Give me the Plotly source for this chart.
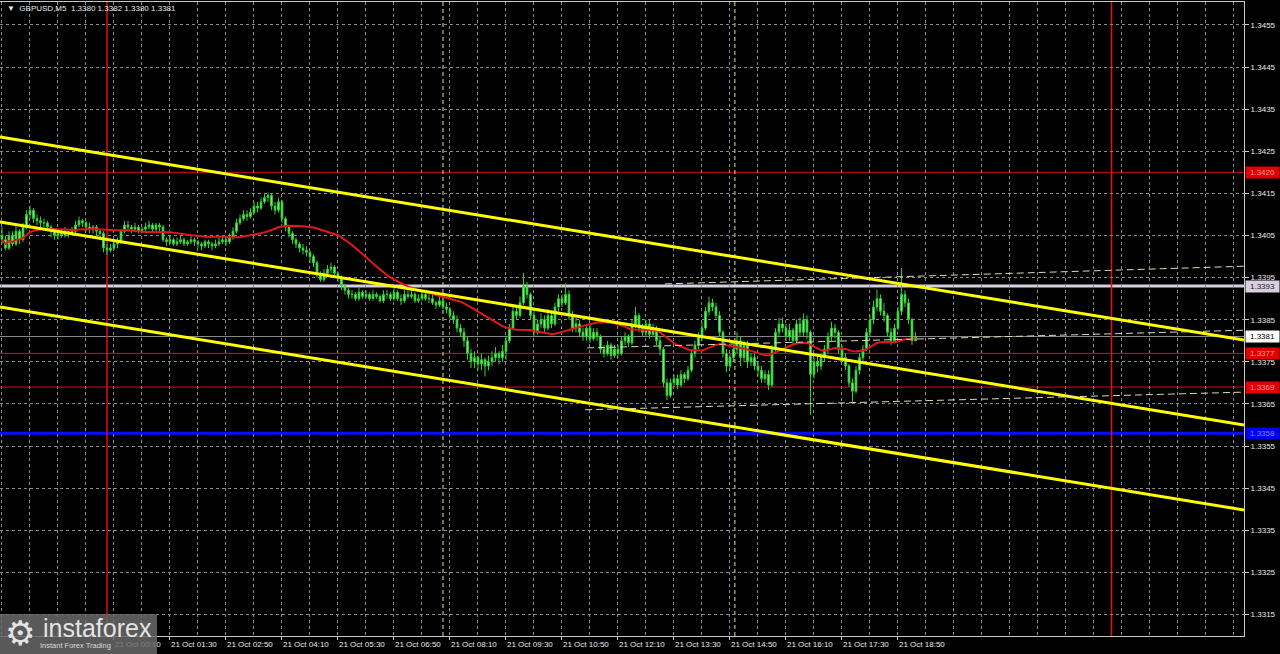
import pandas as pd
import plotly.graph_objects as go

# ---------------- data (GBPUSD M5, prices given as pips above 1.3300) ----------------
REF_PRICE = 1.3300
PIP = 0.0001
first_bar_time = "2025-10-20 21:30"
bar_minutes = 5
first_open_pips = 105

close_pips = [104, 102, 105, 103, 106, 104,
 107, 110, 111,
 109, 108.5, 108, 108,
 107, 106, 105, 105.5, 105,
 106, 105.5, 106,
 107.5, 108.5, 108,
 107, 106.5, 107, 106, 105.5,
 102, 101.5,
 102, 103, 103.5,
 106, 107.5, 107,
 106.5, 107, 106, 106.5,
 107, 107.5, 106.5, 107.5, 107,
 104, 103.5, 104, 103, 103.5, 104, 103, 103.5, 104, 103.5,
 103, 102.5, 103.5, 103, 102.5, 103,
 103.5, 104, 103.5, 104.5,
 106, 108, 109,
 110, 109.5, 110.5,
 112, 111.5, 113,
 114, 114.5,
 112, 111,
 113, 109,
 107, 105.5, 104,
 103, 102, 101.5,
 101, 100, 98.5,
 96, 94.5, 96,
 97, 97.5, 96, 95,
 93, 92, 91,
 91, 90, 91.5, 90.5, 91, 90, 91, 90.5, 89.5, 91,
 91, 90, 91.5, 90, 89.5, 91,
 90.5, 91, 89.5, 90, 91, 90,
 90, 89, 88.5, 89.5, 88, 87.5, 86,
 85, 83, 82,
 80, 77, 75,
 76, 74.5, 75.5, 74, 75, 76,
 77, 76, 77.5,
 80, 83,
 87, 86,
 89, 93, 91,
 86, 82, 84,
 85, 83, 86, 84,
 88, 90, 89,
 91,
 86, 83, 84,
 82, 81, 83, 80.5, 82, 81,
 78, 77, 79, 76.5, 78, 77,
 80, 81, 79.5,
 84, 86, 83,
 82, 84, 81.5, 83,
 80, 78,
 70, 67,
 70, 71, 69.5, 72, 71, 73,
 77, 79,
 81, 83,
 87, 89, 88, 86,
 82,
 77, 74, 76,
 78, 80, 76, 79,
 75, 76, 74,
 73, 71, 72, 69.5,
 78, 82, 84,
 83, 81, 82.5,
 80, 84, 82,
 85, 82,
 72, 75,
 74, 76, 78,
 81, 83, 82,
 78, 76, 74,
 70, 68,
 73, 76, 78,
 82, 85,
 88, 90, 87,
 86,
 82, 80, 83,
 87, 91,
 89, 85,
 80, 81]

high_pips = [107, 105, 106, 106, 107.5, 106.5,
 108, 111, 112,
 111.5, 110, 109.5, 109,
 108.5, 107.5, 106.5, 106.5, 106.5,
 107, 106.5, 107,
 108.5, 109.5, 109,
 108.5, 108, 107.5, 107.5, 106.5,
 106, 103,
 103, 104, 104.5,
 106.5, 108.5, 108.5,
 107.5, 108, 107.5, 107,
 108, 108.5, 108, 108, 108,
 107.5, 104.5, 105, 104.5, 104.5, 105, 104.5, 104, 105, 104.5,
 104, 103.5, 104, 104, 103.5, 104,
 104.5, 105, 104.5, 105.5,
 107, 109, 110,
 111, 111, 111.5,
 113, 113, 114,
 115, 115.2,
 115, 113,
 114, 113.5,
 109.5, 107.5, 106,
 104.5, 103.5, 103,
 102.5, 101.5, 100.5,
 99, 96.5, 97,
 98, 98.5, 98, 96.5,
 95.5, 93.5, 92.5,
 92, 91.5, 92.5, 92, 92, 91.5, 92, 91.5, 91, 92,
 92, 91.5, 92.5, 92, 91, 92,
 92, 92, 91.5, 91, 92, 91.5,
 91, 91, 89.5, 90.5, 90, 89, 88,
 87, 86, 84,
 83, 81, 78,
 77.5, 76.5, 77, 76, 76.5, 77.5,
 78.5, 77.5, 79,
 81, 84,
 88, 88.5,
 90.5, 96.1, 94,
 91.5, 87, 85,
 86.5, 86, 87.5, 87,
 89, 91, 91,
 93.7,
 92, 87, 85.5,
 85, 83, 84, 84, 83, 83,
 81.5, 79, 80, 79.5, 79, 79,
 81, 82, 81.5,
 85, 88, 86.5,
 84, 85, 85, 84,
 83.5, 81,
 78.5, 71,
 71, 72, 72, 73, 72.5, 74,
 78, 80,
 82, 84.5,
 88, 90.5, 90, 89,
 87,
 82.5, 78, 77,
 79, 82, 81, 80,
 80, 77, 77,
 75, 74, 73, 73,
 79, 83, 85.5,
 85.5, 84, 84,
 83, 85, 85.5,
 86.5, 86,
 82.5, 76,
 76.5, 77, 79,
 82, 84.5, 84,
 82.5, 79, 77,
 74.5, 71,
 74, 77, 79,
 83, 86,
 89.5, 92.1, 91,
 89,
 86.5, 83, 84,
 88, 97.3,
 92, 90,
 85.5, 82]

low_pips = [103, 101.5, 101.5, 102.5, 102.5, 103,
 103.5, 106.5, 109,
 108, 107.5, 107, 107,
 106, 104.5, 104, 104, 104.5,
 104.5, 104.5, 105,
 105.5, 107, 107,
 106, 105.5, 105.5, 105, 104,
 101, 100.4,
 101, 101.5, 102,
 103, 105.5, 106,
 105.5, 106, 105.5, 105.5,
 106, 106.5, 106, 106, 106,
 103.5, 102.5, 103, 102.5, 102.5, 103, 102.5, 102.5, 103, 102.5,
 102, 101.5, 102, 102, 101.5, 102,
 102.5, 103, 102.5, 103,
 104, 105.5, 107.5,
 108.5, 108.5, 109,
 110, 110.5, 111,
 112.5, 113,
 111, 110,
 110.5, 108,
 106, 104.5, 103,
 102, 101, 100.5,
 100, 98.5, 97.5,
 95, 94, 94,
 95.5, 96, 95.5, 94,
 92, 91, 90,
 90, 89.5, 89.5, 90, 90, 89.5, 89.5, 90, 89, 89,
 90, 89.5, 89.5, 89.5, 88.5, 89,
 90, 90, 89, 89, 89.5, 89.5,
 89, 88.5, 87.5, 88, 87.5, 86.5, 85,
 84, 82, 81,
 78.5, 75.5, 73.5,
 73.5, 73, 73, 71.5, 73, 74,
 75, 74.5, 75,
 75.5, 79.5,
 82.5, 85,
 85.5, 88.5, 90,
 85, 81, 81.5,
 83, 82, 82.5, 83,
 83.5, 87, 88,
 88.5,
 85, 82, 82,
 81, 80, 80, 79.5, 80, 80,
 77, 76, 76.5, 75.5, 76, 76,
 76.5, 79, 78.5,
 79, 83, 82,
 81, 81, 80.5, 81,
 79, 76.5,
 69, 65.9,
 66.5, 69, 68.5, 69, 70, 70.5,
 72.5, 76,
 78, 80,
 82.5, 86, 87, 85,
 81,
 76, 72.5, 73.5,
 75, 77, 74, 75,
 73.5, 74, 73,
 71.5, 70, 70, 68.3,
 69, 77, 81,
 82, 80, 80,
 79, 79.5, 81,
 81, 80.5,
 62.4, 71,
 72.5, 73, 75,
 77, 80, 80.5,
 77, 75, 73,
 69, 65.5,
 67.5, 72, 75,
 77.5, 81,
 84, 87, 86,
 84.5,
 81, 79, 79.5,
 82.5, 86,
 88, 84,
 79, 80]

ma_period = 30

# horizontal levels
red_levels = [1.3420, 1.3377, 1.3369]
grey_level = 1.3393
blue_level = 1.3358
bid_level = 1.3381

# vertical markers
day_separators = ["2025-10-21 00:00", "2025-10-21 23:55"]
session_marks = ["2025-10-21 08:00", "2025-10-21 14:57"]

# axis window
x_window = ["2025-10-20 21:27:09", "2025-10-22 03:04:18"]
y_window = [1.330987, 1.346046]

# yellow regression channel (price at left / right edge of the window)
channel_top = [1.34284, 1.33802]
channel_mid = [1.34082, 1.33600]
channel_bot = [1.33880, 1.33398]

# dashed pale lines (start time, start price, end price at right edge)
dash_starts = ["2025-10-21 13:17", "2025-10-21 11:26", "2025-10-21 11:23"]
dash_start_prices = [1.33935, 1.33783, 1.33636]
dash_end_prices = [1.33977, 1.33825, 1.33678]

ytick_text = ["1.3315", "1.3325", "1.3335", "1.3345", "1.3355", "1.3365", "1.3375",
              "1.3385", "1.3395", "1.3405", "1.3415", "1.3425", "1.3435", "1.3445", "1.3455"]
xtick_text = ["21 Oct 00:10", "21 Oct 01:30", "21 Oct 02:50", "21 Oct 04:10", "21 Oct 05:30",
              "21 Oct 06:50", "21 Oct 08:10", "21 Oct 09:30", "21 Oct 10:50", "21 Oct 12:10",
              "21 Oct 13:30", "21 Oct 14:50", "21 Oct 16:10", "21 Oct 17:30", "21 Oct 18:50"]
header_text = "▼  GBPUSD,M5  1.3380 1.3382 1.3380 1.3381"

# ---------------- build ----------------
n = min(len(close_pips), len(high_pips), len(low_pips))
times = [pd.Timestamp(first_bar_time) + pd.Timedelta(minutes=bar_minutes * i) for i in range(n)]
open_p = [first_open_pips] + close_pips[:n - 1]
to_px = lambda v: REF_PRICE + v * PIP
o = [to_px(v) for v in open_p]
c = [to_px(v) for v in close_pips[:n]]
h = [max(to_px(v), oo, cc) for v, oo, cc in zip(high_pips[:n], o, c)]
l = [min(to_px(v), oo, cc) for v, oo, cc in zip(low_pips[:n], o, c)]
ma = pd.Series(c).rolling(ma_period, min_periods=1).mean()

xtick_vals = [pd.Timestamp("2025-10-21 " + s.split(" ")[-1]) for s in xtick_text]
ytick_vals = [float(s) for s in ytick_text]

W, H = 1280, 654
ML, MR, MT, MB = 0, 36, 2, 18
PW, PH = W - ML - MR, H - MT - MB


def pxx(x):
    return (x - ML) / PW


def pxy(y):
    return (H - MB - y) / PH


GRID = "#8a8a8a"
AX = "#c8c8c8"
TXT = "#e8e8e8"
FONT = "Liberation Sans, Arial, sans-serif"

fig = go.Figure()

fig.add_trace(go.Candlestick(
    x=times, open=o, high=h, low=l, close=c,
    increasing=dict(line=dict(color="#2fd02f", width=1), fillcolor="#8cf58c"),
    decreasing=dict(line=dict(color="#2fd02f", width=1), fillcolor="#8cf58c"),
    whiskerwidth=0, hoverinfo="skip", showlegend=False,
))

fig.add_trace(go.Scatter(x=times, y=ma, mode="lines",
                         line=dict(color="#e01818", width=2), hoverinfo="skip"))

for ch in (channel_top, channel_mid, channel_bot):
    fig.add_trace(go.Scatter(x=x_window, y=ch, mode="lines",
                             line=dict(color="#ffff00", width=3), hoverinfo="skip"))

for t0, p0, p1 in zip(dash_starts, dash_start_prices, dash_end_prices):
    fig.add_trace(go.Scatter(x=[t0, x_window[1]], y=[p0, p1], mode="lines",
                             line=dict(color="#dcdcb0", width=1, dash="7px,4px"),
                             hoverinfo="skip"))

shapes = []
# bid line
shapes.append(dict(type="line", xref="paper", x0=0, x1=1, yref="y", y0=bid_level, y1=bid_level,
                   line=dict(color="#8c8c8c", width=1), layer="between"))
for lv in red_levels:
    shapes.append(dict(type="line", xref="paper", x0=0, x1=1, yref="y", y0=lv, y1=lv,
                       line=dict(color="#d01010", width=1), layer="between"))
shapes.append(dict(type="line", xref="paper", x0=0, x1=1, yref="y", y0=grey_level, y1=grey_level,
                   line=dict(color="#d8d0e0", width=3), layer="between"))
shapes.append(dict(type="line", xref="paper", x0=0, x1=1, yref="y", y0=blue_level, y1=blue_level,
                   line=dict(color="#0a0aff", width=3), layer="between"))
for t in day_separators:
    shapes.append(dict(type="line", xref="x", x0=t, x1=t, yref="paper", y0=0, y1=1,
                       line=dict(color="#e01010", width=1.5), layer="between"))
for t in session_marks:
    shapes.append(dict(type="line", xref="x", x0=t, x1=t, yref="paper", y0=0, y1=1,
                       line=dict(color="#d4ec90", width=1, dash="4px,3px"), layer="between"))
# logo plate
shapes.append(dict(type="rect", xref="paper", yref="paper", x0=pxx(0), x1=pxx(157),
                   y0=pxy(654), y1=pxy(614), fillcolor="rgba(105,105,105,0.85)",
                   line=dict(width=0), layer="above"))

annotations = []
annotations.append(dict(xref="paper", yref="paper", x=pxx(5), y=pxy(8), xanchor="left",
                        yanchor="middle", text=header_text, showarrow=False,
                        font=dict(family=FONT, size=8, color=TXT)))

boxes = [(red_levels[0], "#e00000", "#ff9a9a"),
         (grey_level, "#d8d0e0", "#202020"),
         (bid_level, "#ffffff", "#000000"),
         (red_levels[1], "#e00000", "#ff9a9a"),
         (red_levels[2], "#e00000", "#ff9a9a"),
         (blue_level, "#0000f0", "#8080ff")]
for val, bg, fg in boxes:
    annotations.append(dict(xref="paper", yref="y", x=1, y=val, xanchor="left", yanchor="middle",
                            xshift=1, text=f"{val:.4f}", showarrow=False, bgcolor=bg,
                            borderpad=1, width=31, align="center",
                            font=dict(family=FONT, size=8, color=fg)))

annotations.append(dict(xref="paper", yref="paper", x=pxx(3), y=pxy(633), xanchor="left",
                        yanchor="middle", text="⚙", showarrow=False,
                        font=dict(family="DejaVu Sans", size=34, color="#e4e4e4")))
annotations.append(dict(xref="paper", yref="paper", x=pxx(41), y=pxy(628), xanchor="left",
                        yanchor="middle", text="instaforex", showarrow=False,
                        font=dict(family=FONT, size=25, color="#e4e4e4")))
annotations.append(dict(xref="paper", yref="paper", x=pxx(38), y=pxy(645), xanchor="left",
                        yanchor="middle", text="Instant Forex Trading", showarrow=False,
                        font=dict(family=FONT, size=7.5, color="#dcdcdc")))

fig.update_layout(
    width=W, height=H, margin=dict(l=ML, r=MR, t=MT, b=MB),
    paper_bgcolor="#000000", plot_bgcolor="#000000", showlegend=False,
    font=dict(family=FONT, size=8, color=TXT),
    shapes=shapes, annotations=annotations,
    xaxis=dict(type="date", range=x_window, tickmode="array", tickvals=xtick_vals,
               ticktext=xtick_text, ticks="outside", ticklen=3, tickcolor=AX,
               ticklabelposition="outside right", tickfont=dict(size=8, color=TXT),
               showgrid=True, gridcolor=GRID, griddash="3px,3px", gridwidth=1,
               minor=dict(tickmode="linear", tick0="2025-10-21 00:10", dtick=2400000,
                          showgrid=True, gridcolor=GRID, griddash="3px,3px", gridwidth=1),
               showline=True, linecolor=AX, linewidth=1, mirror=True,
               zeroline=False, rangeslider=dict(visible=False), fixedrange=True),
    yaxis=dict(side="right", range=y_window, tickmode="array", tickvals=ytick_vals,
               ticktext=ytick_text, ticks="outside", ticklen=4, tickcolor=AX,
               tickfont=dict(size=8, color=TXT),
               showgrid=True, gridcolor=GRID, griddash="3px,3px", gridwidth=1,
               showline=True, linecolor=AX, linewidth=1, mirror=True, zeroline=False,
               fixedrange=True),
)

fig.write_html("out.html", config={"displayModeBar": False},
               post_script="document.body.style.margin='0';document.body.style.overflow='hidden';")
